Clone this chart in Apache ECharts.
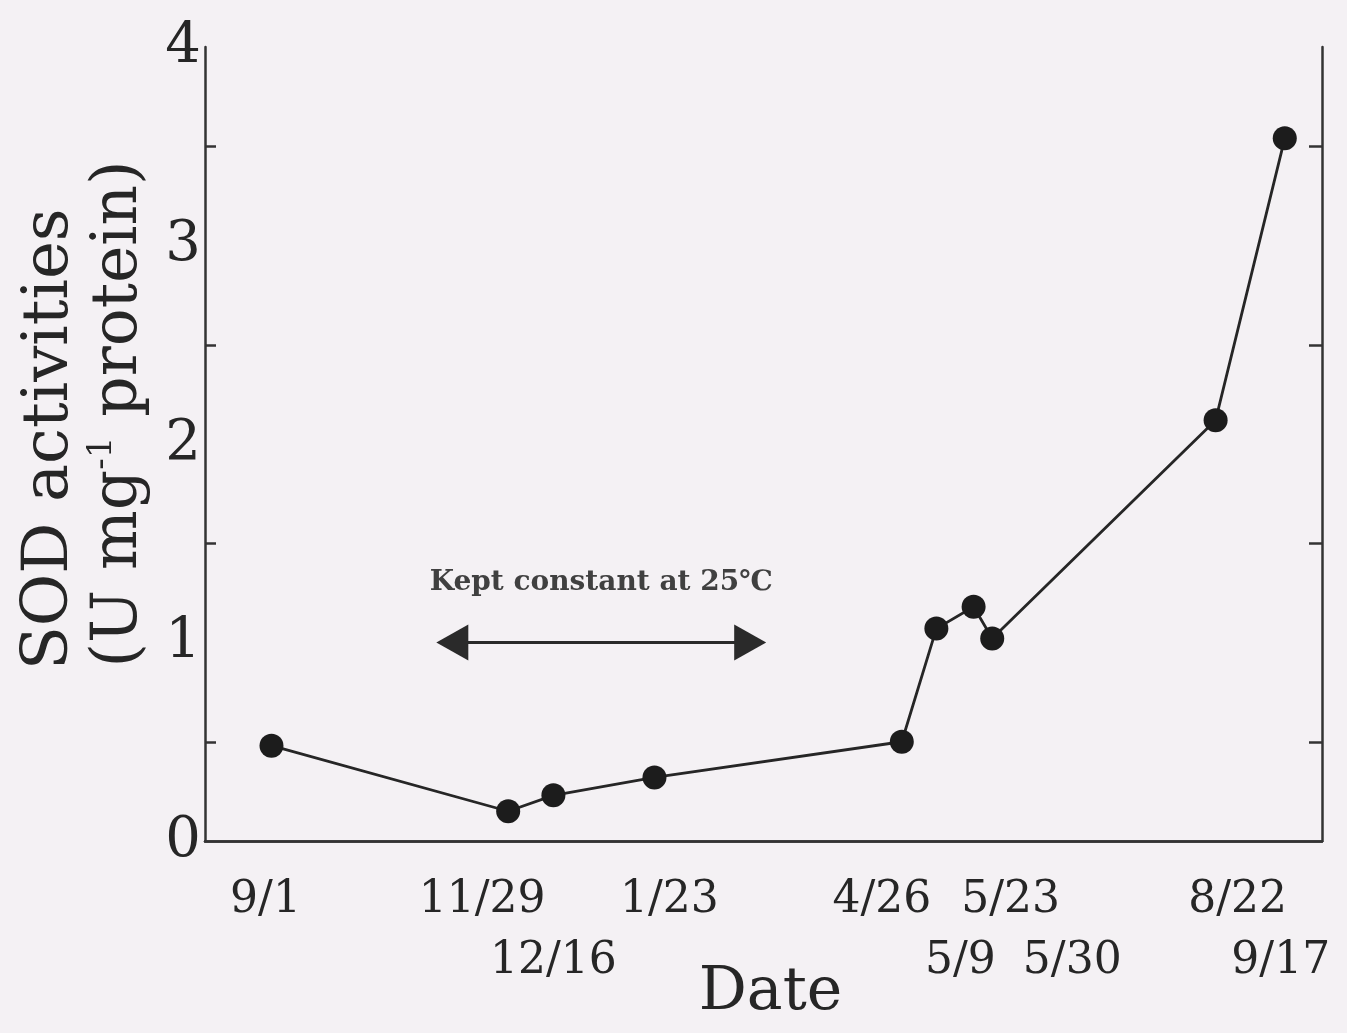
<!DOCTYPE html>
<html>
<head>
<meta charset="utf-8">
<script src="https://cdn.jsdelivr.net/npm/echarts@6/dist/echarts.min.js"></script>
<style>
  html, body { margin: 0; padding: 0; background: #f4f1f4; }
  #chart { width: 1347px; height: 1033px; }
</style>
</head>
<body>
<div id="chart"></div>
<script>
// Sampling dates and SOD activity (U mg-1 protein)
const sampleDates = ['1998-09-01', '1998-11-29', '1998-12-16', '1999-01-23', '1999-04-26',
                     '1999-05-09', '1999-05-23', '1999-05-30', '1999-08-22', '1999-09-17'];
const dateLabels = ['9/1', '11/29', '12/16', '1/23', '4/26', '5/9', '5/23', '5/30', '8/22', '9/17'];
const sodActivity = [0.48, 0.15, 0.23, 0.32, 0.50, 1.07, 1.18, 1.02, 2.12, 3.54];
const yTicks = [0, 1, 2, 3, 4];
const axisRange = ['1998-08-07', '1999-10-01'];

// Period when temperature was held constant
const constantSpan = ['1998-11-08', '1999-02-28'];
const constantLevel = 1.0;
const constantNote = 'Kept constant at 25\u2103';

// Date label layout: row under the axis and small horizontal nudge (px)
const labelRow = [1, 1, 2, 1, 1, 2, 1, 2, 1, 2];
const labelShift = [-6, -26, 0, 15, -20, 24, 37, 80, 22, -4];

const ts = s => { const [y, m, d] = s.split('-').map(Number); return new Date(y, m - 1, d).getTime(); };

const FONT = 'DejaVu Serif';
const INK = '#262626';
const frameLine = { color: '#333', width: 2.5 };

const chart = echarts.init(document.getElementById('chart'));

chart.setOption({
  backgroundColor: '#f4f1f4',
  animation: false,
  grid: { left: 205, right: 25, top: 47, bottom: 192 },
  xAxis: [
    {
      type: 'time',
      min: ts(axisRange[0]), max: ts(axisRange[1]),
      axisLine: { lineStyle: frameLine },
      axisTick: { show: false },
      axisLabel: { show: false },
      splitLine: { show: false },
      name: 'Date',
      nameLocation: 'middle',
      nameGap: 122,
      nameTextStyle: { fontFamily: FONT, fontSize: 60, color: INK, padding: [0, 0, 0, 14] }
    },
    {
      type: 'time', position: 'top',
      min: ts(axisRange[0]), max: ts(axisRange[1]),
      axisLine: { lineStyle: frameLine },
      axisTick: { show: false },
      axisLabel: { show: false },
      splitLine: { show: false }
    }
  ],
  yAxis: [
    {
      type: 'value', min: yTicks[0], max: yTicks[yTicks.length - 1], interval: 1,
      axisLine: { show: true, lineStyle: frameLine },
      axisTick: { inside: true, length: 22, lineStyle: frameLine },
      minorTick: { show: true, splitNumber: 2, length: 11, lineStyle: frameLine },
      splitLine: { show: false },
      axisLabel: { margin: 4, fontFamily: FONT, fontSize: 56, color: INK,
                   formatter: v => yTicks.includes(v) ? String(v) : '' },
      name: '{a|SOD activities}\n{b|(U mg}{s|-1}{b| protein)}',
      nameLocation: 'middle',
      nameRotate: 90,
      nameGap: 50,
      nameTextStyle: {
        fontFamily: FONT, color: INK,
        padding: [0, 0, 0, 60],
        rich: {
          a: { fontFamily: FONT, fontSize: 64, color: INK, lineHeight: 70, width: 512, align: 'left' },
          b: { fontFamily: FONT, fontSize: 63, color: INK, lineHeight: 70 },
          s: { fontFamily: FONT, fontSize: 34, color: INK, lineHeight: 70, verticalAlign: 'top' }
        }
      }
    },
    {
      type: 'value', position: 'right', min: yTicks[0], max: yTicks[yTicks.length - 1], interval: 1,
      axisLine: { show: true, lineStyle: frameLine },
      axisTick: { inside: true, length: 24, lineStyle: frameLine },
      minorTick: { show: true, splitNumber: 2, length: 13, lineStyle: frameLine },
      splitLine: { show: false },
      axisLabel: { show: false }
    }
  ],
  series: [
    {
      name: 'SOD',
      type: 'line',
      data: sampleDates.map((d, i) => [ts(d), sodActivity[i]]),
      symbol: 'circle',
      symbolSize: 24,
      itemStyle: { color: '#1c1c1c' },
      lineStyle: { color: '#262626', width: 2.8 },
      z: 3,
      markLine: {
        silent: true,
        symbol: ['triangle', 'triangle'],
        symbolSize: [36, 32],
        lineStyle: { color: '#2a2a2a', width: 3, type: 'solid' },
        label: {
          show: true, position: 'insideMiddleTop', distance: 46,
          formatter: constantNote,
          fontFamily: FONT, fontWeight: 'bold', fontSize: 28, color: '#404040'
        },
        data: [[
          { coord: [ts(constantSpan[0]), constantLevel] },
          { coord: [ts(constantSpan[1]), constantLevel] }
        ]]
      }
    },
    {
      name: 'dates',
      type: 'scatter',
      silent: true,
      clip: false,
      symbolSize: 1,
      itemStyle: { color: 'rgba(0,0,0,0)', opacity: 1 },
      data: sampleDates.map((d, i) => ({
        value: [ts(d), 0],
        label: { offset: [labelShift[i], labelRow[i] === 1 ? 60 : 121] }
      })),
      label: {
        show: true, position: 'inside',
        formatter: p => dateLabels[p.dataIndex],
        fontFamily: FONT, fontSize: 44, color: INK
      },
      z: 1
    }
  ]
});
</script>
</body>
</html>
